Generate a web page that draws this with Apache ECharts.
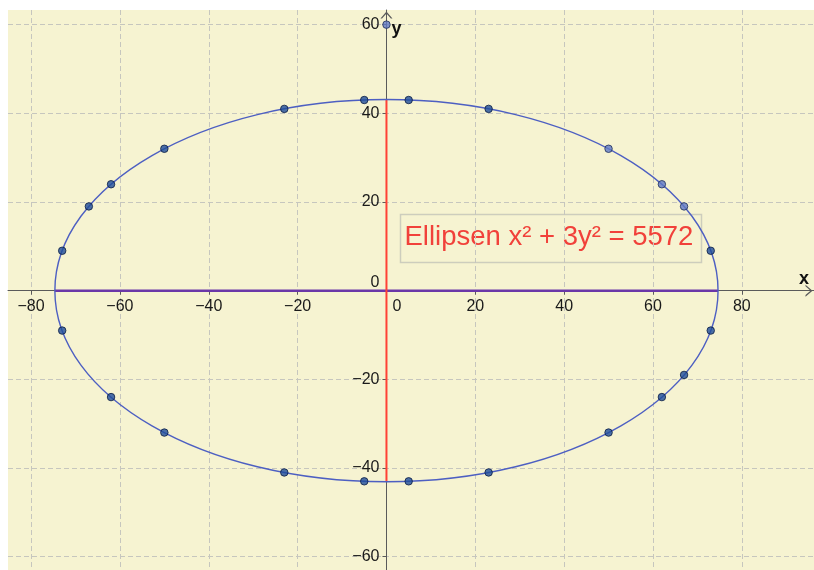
<!DOCTYPE html>
<html><head><meta charset="utf-8">
<script src="https://cdn.jsdelivr.net/npm/echarts@6/dist/echarts.min.js"></script>
<style>html,body{margin:0;padding:0;background:#fff}#c{width:814px;height:570px}</style>
</head><body><div id="c"></div>
<script>
// ---- data ----
const tickValuesX = [-80, -60, -40, -20, 0, 20, 40, 60, 80];
const tickValuesY = [-60, -40, -20, 0, 20, 40, 60];
const xRange = [-85.2, 96.25];
const yRange = [-63.0, 63.3];
const ellipseCenter = [0, 0];
const semiAxisA = 74.65;   // sqrt(5572)
const semiAxisB = 43.1;    // sqrt(5572/3)
const majorAxisSeg = [[-74.65, 0], [74.65, 0]];
const minorAxisSeg = [[0, 43.1], [0, -43.1]];
const pointsDark = [
  [-73, 9], [-67, 19], [-62, 24], [-50, 32], [-23, 41], [-5, 43],
  [5, 43], [23, 41], [73, 9],
  [-73, -9], [-62, -24], [-50, -32], [-23, -41], [-5, -43],
  [5, -43], [23, -41], [50, -32], [62, -24], [67, -19], [73, -9]
];
const pointsLight = [[50, 32], [62, 24], [67, 19], [0, 60]];
const labelText = 'Ellipsen x² + 3y² = 5572';
const axisNameX = 'x';
const axisNameY = 'y';

// ---- chart ----
const FONT = '"Liberation Sans", Arial, sans-serif';
const GRID = {left: 8, top: 10, right: 0, bottom: 0};
const chevron = 'path://M0,7 L6,0 L12,7 L10.4,7 L6,2 L1.6,7 Z';
const fmt = v => v === 0 ? '{z|0}' : (v < 0 ? '\u2212' + Math.abs(v) : String(v));
const lineCol = '#5a5a5a';
const chart = echarts.init(document.getElementById('c'), null, {renderer: 'canvas'});
const axisCommon = {
  type: 'value',
  axisLine: {show: true, onZero: false, symbol: ['none', chevron], symbolSize: [12, 7], symbolOffset: [0, -5],
    lineStyle: {color: lineCol, width: 1}},
  splitLine: {show: true, lineStyle: {color: '#c6c6be', width: 1, type: [5, 3]}}
};
function buildOption(offX, offY) {
  return {
    backgroundColor: '#ffffff',
    animation: false,
    grid: Object.assign({show: true, backgroundColor: '#f6f3d1', borderWidth: 0, containLabel: false, outerBoundsMode: 'none'}, GRID),
    xAxis: Object.assign({}, axisCommon, {
      position: 'bottom', offset: offX,
      min: xRange[0], max: xRange[1],
      name: axisNameX, nameLocation: 'end', nameGap: -15,
      nameTextStyle: {fontFamily: FONT, fontSize: 18, fontWeight: 'bold', color: '#111', align: 'left', verticalAlign: 'bottom', lineHeight: 18, padding: [0, 0, 3, 0]},
      axisTick: {show: true, length: 4, customValues: tickValuesX, lineStyle: {color: lineCol}},
      axisLabel: {customValues: tickValuesX, margin: 8, fontFamily: FONT, fontSize: 16, color: '#1a1a1a',
        formatter: fmt,
        rich: {z: {padding: [0, 0, 0, 21], fontFamily: FONT, fontSize: 16, color: '#1a1a1a'}}}
    }),
    yAxis: Object.assign({}, axisCommon, {
      position: 'left', offset: offY,
      min: yRange[0], max: yRange[1],
      name: axisNameY, nameLocation: 'end', nameGap: -28,
      nameTextStyle: {fontFamily: FONT, fontSize: 18, fontWeight: 'bold', color: '#111', align: 'left', verticalAlign: 'bottom', padding: [0, 0, 0, 5]},
      axisTick: {show: true, length: 4, customValues: tickValuesY, lineStyle: {color: lineCol}},
      axisLabel: {customValues: tickValuesY, margin: 7, fontFamily: FONT, fontSize: 16, color: '#1a1a1a',
        formatter: fmt,
        rich: {z: {padding: [0, 0, 16, 0], fontFamily: FONT, fontSize: 16, color: '#1a1a1a'}}}
    }),
    graphic: [{
      type: 'group', left: 398, top: 212, z: 5,
      children: [
        {type: 'rect', shape: {x: 0, y: 0, width: 301, height: 48}, style: {fill: 'none', stroke: '#cdcdbd', lineWidth: 1.5}},
        {type: 'text', style: {text: labelText, x: 4, y: 23, verticalAlign: 'middle', font: '27.5px "Liberation Sans", Arial, sans-serif', fill: '#f1413a'}}
      ]
    }],
    series: [
      {type: 'line', data: majorAxisSeg, showSymbol: false, symbol: 'none', z: 3,
        lineStyle: {color: '#6a37a8', width: 2.5}},
      {type: 'line', data: minorAxisSeg, showSymbol: false, symbol: 'none', z: 3,
        lineStyle: {color: '#ff4136', width: 2}},
      {type: 'custom', z: 4, clip: true,
        encode: {x: 0, y: 1},
        data: [[ellipseCenter[0], ellipseCenter[1], semiAxisA, semiAxisB]],
        renderItem: (params, api) => {
          const c = api.coord([api.value(0), api.value(1)]);
          const s = api.size([api.value(2), api.value(3)]);
          return {type: 'ellipse', shape: {cx: c[0], cy: c[1], rx: s[0], ry: s[1]},
            style: {fill: 'none', stroke: '#4d5fc2', lineWidth: 1.4}};
        }},
      {type: 'scatter', data: pointsDark, symbol: 'circle', symbolSize: 7.5, z: 6,
        itemStyle: {color: '#1f4c9a', borderColor: '#0b1d42', borderWidth: 1}},
      {type: 'scatter', data: pointsLight, symbol: 'circle', symbolSize: 7.5, z: 6,
        itemStyle: {color: '#6079c6', borderColor: '#1e2e5a', borderWidth: 1}}
    ]
  };
}
chart.setOption(buildOption(0, 0));
// move both axes onto the origin, located through the library's own scales
const origin = chart.convertToPixel({gridIndex: 0}, [0, 0]);
const H = chart.getHeight();
const offX = -((H - GRID.bottom) - origin[1]);
const offY = -(origin[0] - GRID.left);
chart.setOption(buildOption(offX, offY));
</script></body></html>
